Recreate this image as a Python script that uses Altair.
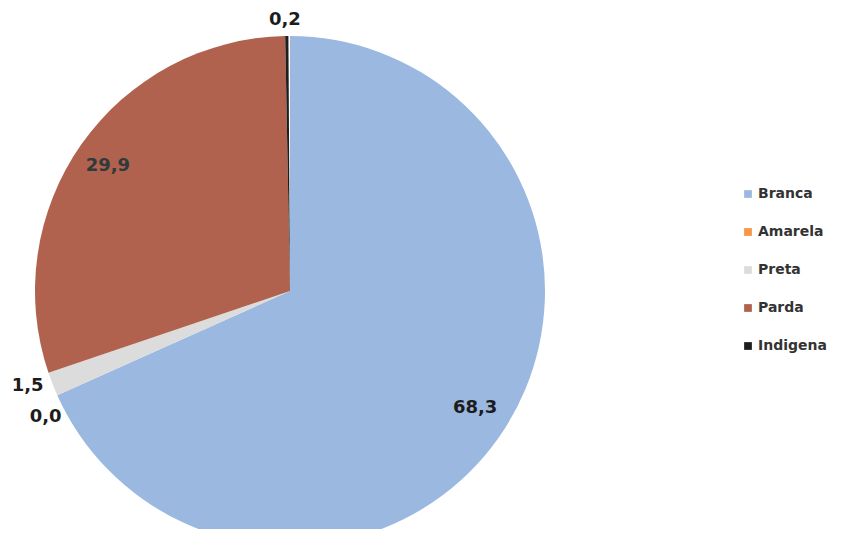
import altair as alt
import pandas as pd

categories = ["Branca", "Amarela", "Preta", "Parda", "Indigena"]
values = [68.3, 0.0, 1.5, 29.9, 0.2]
labels = ["68,3", "0,0", "1,5", "29,9", "0,2"]
colors = ["#9bb8e0", "#f79646", "#dcdcdc", "#b0624f", "#1e1e1e"]

df = pd.DataFrame({
    "cat": categories,
    "value": values,
    "label": labels,
    "idx": list(range(len(categories))),
})

# label placement tweaks (style only): angular nudge in percent, and radius in px
nudge = {"Branca": -0.18, "Amarela": -0.88, "Preta": 0.42, "Parda": -0.17, "Indigena": -0.1}
rad = {"Branca": 219, "Amarela": 275, "Preta": 279, "Parda": 221, "Indigena": 271}


def lookup_expr(d, default):
    expr = str(default)
    for k, v in d.items():
        expr = f"(datum.cat == '{k}' ? {v} : {expr})"
    return expr


CX, CY, R = 282, 283, 255

pie = alt.Chart(df).mark_arc(stroke=None).encode(
    theta=alt.Theta("value:Q", stack=True),
    order=alt.Order("idx:Q"),
    color=alt.Color(
        "cat:N",
        scale=alt.Scale(domain=categories, range=colors),
        sort=categories,
        legend=alt.Legend(
            title=None,
            orient="none",
            legendX=733,
            legendY=179,
            symbolType="square",
            symbolSize=60,
            symbolStrokeWidth=0,
            labelFont="DejaVu Sans",
            labelFontWeight="bold",
            labelFontSize=14,
            labelColor="#333333",
            rowPadding=24,
            labelOffset=3,
        ),
    ),
    x=alt.value(CX),
    y=alt.value(CY),
    radius=alt.value(R),
)

text = alt.Chart(df).transform_window(
    cum="sum(value)", sort=[alt.SortField("idx")]
).transform_calculate(
    mid="datum.cum - datum.value / 2 + " + lookup_expr(nudge, 0),
    r=lookup_expr(rad, 270),
).mark_text(
    font="DejaVu Sans", fontWeight="bold", fontSize=18
).encode(
    theta=alt.Theta("mid:Q", stack=None, scale=alt.Scale(domain=[0, 100])),
    text="label:N",
    color=alt.condition("datum.cat == 'Parda'", alt.value("#2f3a3a"), alt.value("#1c1c1c")),
    x=alt.value(CX),
    y=alt.value(CY),
    radius=alt.Radius("r:Q", scale=None, stack=None),
)

chart = (pie + text).properties(
    width=829,
    height=521,
    autosize=alt.AutoSizeParams(type="none"),
    padding=0,
).configure_view(stroke=None)

chart.save("out.html", embed_options={"renderer": "svg", "actions": False})
